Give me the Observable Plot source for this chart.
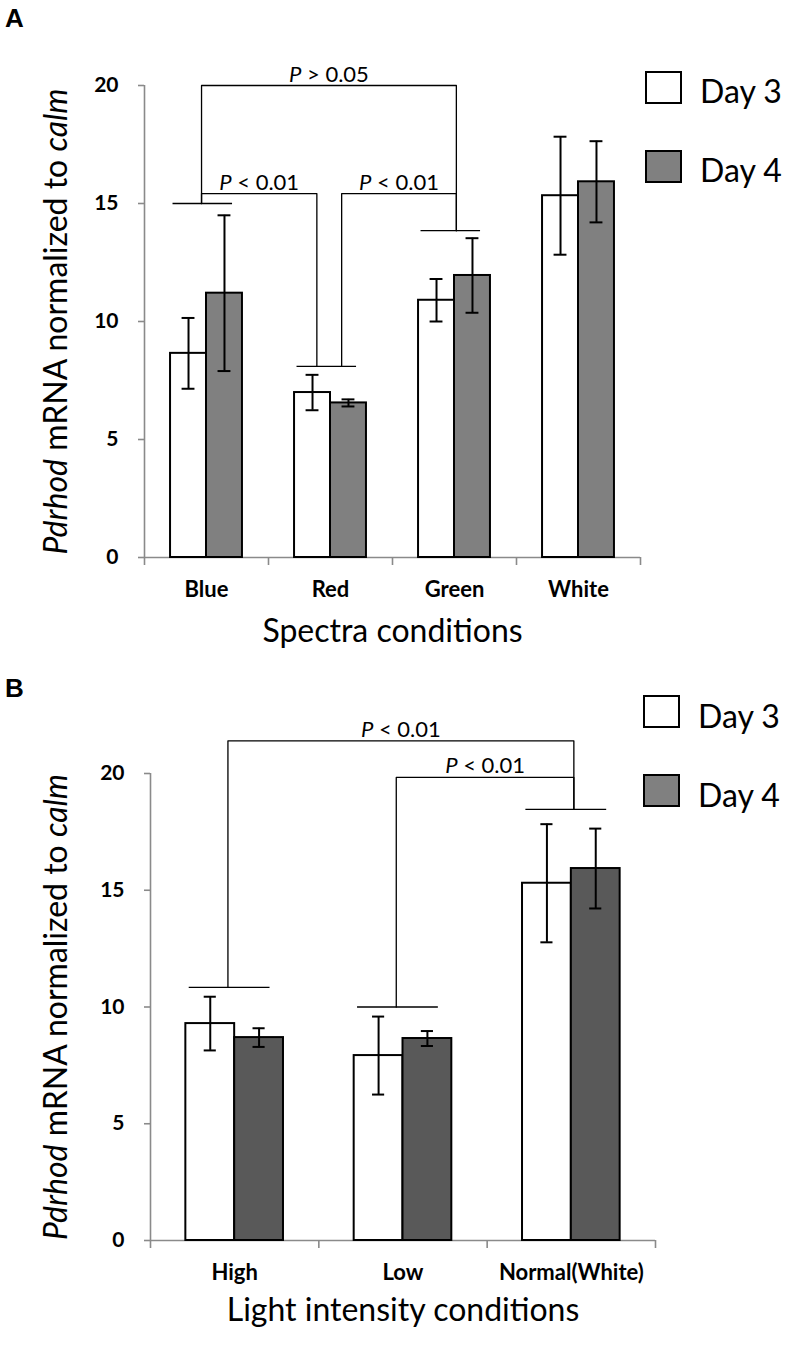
<!DOCTYPE html>
<html>
<head>
<meta charset="utf-8">
<script src="https://cdn.jsdelivr.net/npm/d3@7"></script>
<script src="https://cdn.jsdelivr.net/npm/@observablehq/plot@0.6"></script>
<style>
  body { margin: 0; background: #fff; }
  #wrap { position: relative; width: 793px; height: 1350px; font-family: Lato, sans-serif; background: #fff; }
  .panel { position: absolute; left: 0; }
  .letter { position: absolute; font-family: "Liberation Sans", Arial, sans-serif; font-weight: bold; font-size: 26px; line-height: 1; }
  .lg-box { position: absolute; width: 33px; height: 29px; border: 2px solid #000; }
  .lg-text { position: absolute; font-family: Lato, sans-serif; font-size: 32px; line-height: 1; color: #000; white-space: nowrap; }
</style>
</head>
<body>
<div id="wrap"></div>
<script>
// ---------- data ----------
const days = ["Day 3", "Day 4"];
const yTicks = [0, 5, 10, 15, 20];
const yLabel = "Pdrhod mRNA normalized to calm";

const spectraCategories = ["Blue", "Red", "Green", "White"];
const spectraDay3 = [8.65, 6.99, 10.9, 15.33];
const spectraDay3Err = [1.5, 0.75, 0.9, 2.5];
const spectraDay4 = [11.2, 6.55, 11.95, 15.92];
const spectraDay4Err = [3.3, 0.15, 1.58, 1.72];
const spectraGroupLines = [15.0, 8.1, 13.85, null];
const spectraBrackets = [
  {from: "Blue", to: "Green", height: 20, label: "P > 0.05"},
  {from: "Blue", to: "Red", height: 15.42, label: "P < 0.01"},
  {from: "Red", to: "Green", height: 15.42, label: "P < 0.01"}
];

const intensityCategories = ["High", "Low", "Normal(White)"];
const intensityDay3 = [9.29, 7.92, 15.3];
const intensityDay3Err = [1.15, 1.67, 2.53];
const intensityDay4 = [8.69, 8.65, 15.93];
const intensityDay4Err = [0.4, 0.32, 1.71];
const intensityGroupLines = [10.84, 10.0, 18.46];
const intensityBrackets = [
  {from: "High", to: "Normal(White)", height: 21.4, label: "P < 0.01"},
  {from: "Low", to: "Normal(White)", height: 19.83, label: "P < 0.01"}
];

// ---------- drawing ----------
const SVGNS = "http://www.w3.org/2000/svg";
function italicize(svg) {
  for (const t of svg.querySelectorAll("text")) {
    const s = t.textContent;
    if (s.startsWith("Pdrhod")) {
      t.textContent = "";
      const parts = [["Pdrhod", true], [" mRNA normalized to ", false], ["calm", true]];
      for (const [str, it] of parts) {
        const ts = document.createElementNS(SVGNS, "tspan");
        if (it) ts.setAttribute("font-style", "italic");
        ts.textContent = str;
        t.appendChild(ts);
      }
    } else if (/^P [<>]/.test(s)) {
      t.textContent = "";
      const a = document.createElementNS(SVGNS, "tspan");
      a.setAttribute("font-style", "italic");
      a.textContent = "P";
      const b = document.createElementNS(SVGNS, "tspan");
      b.textContent = s.slice(1);
      t.appendChild(a); t.appendChild(b);
    }
  }
}

function makePanel(cfg) {
  const {cats, d3v, d3e, d4v, d4e, groupLines, brackets, day4Fill, capHalf} = cfg;
  const n = cats.length;
  const xDomain = [-0.5, n - 0.5];
  const barW = 0.29;
  const bars = [];
  cats.forEach((c, i) => {
    bars.push({c, i, day: days[0], v: d3v[i], e: d3e[i], x1: i - barW, x2: i});
    bars.push({c, i, day: days[1], v: d4v[i], e: d4e[i], x1: i, x2: i + barW});
  });
  bars.forEach(b => b.xc = (b.x1 + b.x2) / 2);
  const caps = bars.flatMap(b => [{xc: b.xc, y: b.v - b.e}, {xc: b.xc, y: b.v + b.e}]);
  const gl = groupLines.map((h, i) => ({i, h})).filter(d => d.h != null);

  const asFrom = new Set(brackets.map(b => b.from));
  const asTo = new Set(brackets.map(b => b.to));
  const legX = (c, side) => {
    const i = cats.indexOf(c);
    const shared = asFrom.has(c) && asTo.has(c);
    if (side === "from") return i + (shared ? 0.09 : -0.04);
    return i + (shared ? -0.11 : 0.015);
  };
  const bracketPts = [];
  const bracketLabels = [];
  brackets.forEach((b, k) => {
    const ia = cats.indexOf(b.from), ib = cats.indexOf(b.to);
    const xa = legX(b.from, "from"), xb = legX(b.to, "to");
    bracketPts.push({k, x: xa, y: groupLines[ia]}, {k, x: xa, y: b.height},
                    {k, x: xb, y: b.height}, {k, x: xb, y: groupLines[ib]});
    bracketLabels.push({x: (xa + xb) / 2, y: b.height, label: b.label});
  });

  const boundaries = d3.range(n + 1).map(i => i - 0.5);

  const svg = Plot.plot({
    width: 793,
    height: cfg.height,
    marginTop: cfg.marginTop,
    marginBottom: cfg.marginBottom,
    marginLeft: cfg.marginLeft,
    marginRight: cfg.marginRight,
    style: {fontFamily: "Lato, sans-serif", background: "white", overflow: "visible", color: "black"},
    x: {type: "linear", domain: xDomain},
    y: {domain: [0, 20]},
    marks: [
      Plot.ruleX([xDomain[0]], {y1: () => 0, y2: () => 20, stroke: "#8a8a8a", strokeWidth: 1.6}),
      Plot.ruleY([0], {x1: () => xDomain[0], x2: () => xDomain[1], stroke: "#8a8a8a", strokeWidth: 1.6}),
      Plot.axisY({ticks: yTicks, tickSize: 6, tickPadding: 20, stroke: "#8a8a8a", strokeWidth: 1.6,
                  fontSize: 21, fontWeight: "bold", label: null}),
      Plot.axisX({ticks: boundaries, tickSize: 8, tickFormat: () => "", stroke: "#8a8a8a", strokeWidth: 1.6, label: null}),
      Plot.axisX({ticks: d3.range(n), tickSize: 0, tickPadding: 24, tickFormat: i => cats[i],
                  fontSize: 22, fontWeight: "bold", label: null}),
      Plot.axisX({ticks: [], label: cfg.xLabel, labelAnchor: "center", labelArrow: "none",
                  labelOffset: cfg.xLabelOffset, fontSize: 32}),
      Plot.axisY({ticks: [], label: yLabel, labelAnchor: "center", labelArrow: "none",
                  labelOffset: cfg.yLabelOffset, fontSize: 32}),
      Plot.rect(bars.filter(b => b.day === days[0]), {x1: "x1", x2: "x2", y1: () => 0, y2: "v", fill: "white", stroke: "black", strokeWidth: 2}),
      Plot.rect(bars.filter(b => b.day === days[1]), {x1: "x1", x2: "x2", y1: () => 0, y2: "v", fill: day4Fill, stroke: "black", strokeWidth: 2}),
      Plot.ruleX(bars, {x: "xc", y1: d => d.v - d.e, y2: d => d.v + d.e, stroke: "black", strokeWidth: 2}),
      Plot.ruleY(caps, {y: "y", x1: d => d.xc - capHalf, x2: d => d.xc + capHalf, stroke: "black", strokeWidth: 2}),
      Plot.ruleY(gl, {y: "h", x1: d => d.i - 0.27, x2: d => d.i + 0.21, stroke: "black", strokeWidth: 1.3}),
      Plot.line(bracketPts, {x: "x", y: "y", z: "k", stroke: "black", strokeWidth: 1.3, curve: "linear"}),
      Plot.text(bracketLabels, {x: "x", y: "y", text: "label", lineAnchor: "bottom", dy: -4, fontSize: 22, fill: "black"})
    ]
  });
  italicize(svg);
  return svg;
}

const wrap = document.getElementById("wrap");

function addPanel(svg, top) {
  const div = document.createElement("div");
  div.className = "panel";
  div.style.top = top + "px";
  div.appendChild(svg);
  wrap.appendChild(div);
}

function addLegend(boxLeft, textLeft, boxTops, textTops, fills) {
  days.forEach((d, i) => {
    const box = document.createElement("div");
    box.className = "lg-box";
    box.style.left = boxLeft + "px";
    box.style.top = boxTops[i] + "px";
    box.style.background = fills[i];
    wrap.appendChild(box);
    const t = document.createElement("div");
    t.className = "lg-text";
    t.style.left = textLeft + "px";
    t.style.top = textTops[i] + "px";
    t.textContent = d;
    wrap.appendChild(t);
  });
}

function addLetter(s, top) {
  const l = document.createElement("div");
  l.className = "letter";
  l.style.left = "5px";
  l.style.top = top + "px";
  l.textContent = s;
  wrap.appendChild(l);
}

addPanel(makePanel({
  cats: spectraCategories, d3v: spectraDay3, d3e: spectraDay3Err, d4v: spectraDay4, d4e: spectraDay4Err,
  groupLines: spectraGroupLines, brackets: spectraBrackets, day4Fill: "#808080", capHalf: 0.052,
  height: 660, marginTop: 85, marginBottom: 103, marginLeft: 144, marginRight: 153,
  xLabel: "Spectra conditions", xLabelOffset: 84, yLabelOffset: 100
}), 0);

addPanel(makePanel({
  cats: intensityCategories, d3v: intensityDay3, d3e: intensityDay3Err, d4v: intensityDay4, d4e: intensityDay4Err,
  groupLines: intensityGroupLines, brackets: intensityBrackets, day4Fill: "#595959", capHalf: 0.036,
  height: 690, marginTop: 113, marginBottom: 110, marginLeft: 150, marginRight: 138,
  xLabel: "Light intensity conditions", xLabelOffset: 80, yLabelOffset: 106
}), 660);

addLegend(645, 700, [71, 150], [75, 154], ["#ffffff", "#808080"]);
addLegend(643, 698, [695, 774], [700, 779], ["#ffffff", "#808080"]);
addLetter("A", 5);
addLetter("B", 675);
</script>
</body>
</html>
